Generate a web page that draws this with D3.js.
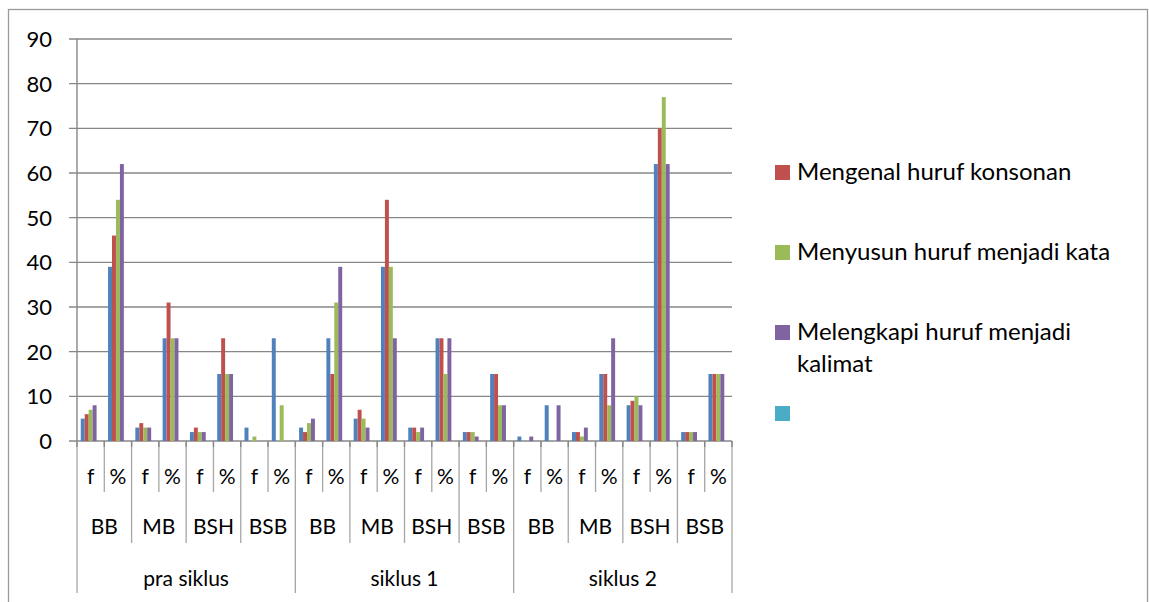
<!DOCTYPE html>
<html>
<head>
<meta charset="utf-8">
<script src="https://cdn.jsdelivr.net/npm/d3@7"></script>
<style>
  body { margin: 0; background: #fff; }
  text { font-family: Lato, "Liberation Sans", sans-serif; fill: #000; }
</style>
</head>
<body>
<div id="chart"></div>
<script>
// data
const siklus = ["pra siklus", "siklus 1", "siklus 2"];
const kategori = ["BB", "MB", "BSH", "BSB"];
const kolom = ["f", "%"];

const seriesNames = ["", "Mengenal huruf konsonan", "Menyusun huruf menjadi kata", "Melengkapi huruf menjadi kalimat", ""];
const seriesColors = ["#4f81bd", "#c0504d", "#9bbb59", "#8064a2", "#4bacc6"];

const biru   = [5, 39, 3, 23, 2, 15, 3, 23,  3, 23, 5, 39, 3, 23, 2, 15,  1, 8, 2, 15, 8, 62, 2, 15];
const merah  = [6, 46, 4, 31, 3, 23, 0, 0,   2, 15, 7, 54, 3, 23, 2, 15,  0, 0, 2, 15, 9, 70, 2, 15];
const hijau  = [7, 54, 3, 23, 2, 15, 1, 8,   4, 31, 5, 39, 2, 15, 2, 8,   0, 0, 1, 8, 10, 77, 2, 15];
const ungu   = [8, 62, 3, 23, 2, 15, 0, 0,   5, 39, 3, 23, 3, 23, 1, 8,   1, 8, 3, 23, 8, 62, 2, 15];
const kosong = [null, null, null, null, null, null, null, null, null, null, null, null,
                null, null, null, null, null, null, null, null, null, null, null, null];

const yTicks = [0, 10, 20, 30, 40, 50, 60, 70, 80, 90];
const legendIdx = [1, 2, 3, 4];

document.addEventListener("DOMContentLoaded", () => {
  const W = 1149, H = 602;
  const plot = { left: 77, right: 732, top: 39, bottom: 441 };

  const svg = d3.select("#chart")
    .append("svg")
    .attr("width", W)
    .attr("height", H);

  // chart border
  svg.append("rect")
    .attr("x", 8.5).attr("y", 9.5)
    .attr("width", 1139).attr("height", 620)
    .attr("fill", "none")
    .attr("stroke", "#9a9a9a")
    .attr("stroke-width", 1.3);

  const cats = [];
  siklus.forEach(s => kategori.forEach(k => kolom.forEach(c => cats.push(`${s}|${k}|${c}`))));

  const allSeries = [biru, merah, hijau, ungu, kosong];

  const x0 = d3.scaleBand().domain(cats).range([plot.left, plot.right]).padding(0);
  const x1 = d3.scaleBand().domain(d3.range(allSeries.length))
    .range([0, x0.bandwidth()]).paddingInner(0).paddingOuter(0.95);
  const y = d3.scaleLinear().domain([0, 90]).range([plot.bottom, plot.top]);

  // gridlines
  svg.append("g")
    .selectAll("line")
    .data(yTicks)
    .join("line")
    .attr("x1", plot.left - 8).attr("x2", plot.right)
    .attr("y1", d => y(d)).attr("y2", d => y(d))
    .attr("stroke", "#878787")
    .attr("stroke-width", 1.4);

  // y axis labels
  svg.append("g")
    .selectAll("text")
    .data(yTicks)
    .join("text")
    .attr("x", 52)
    .attr("y", d => y(d))
    .attr("dy", "0.36em")
    .attr("text-anchor", "end")
    .style("font-size", "22px")
    .text(d => d);

  // bars
  const barData = [];
  cats.forEach((c, i) => {
    allSeries.forEach((s, j) => {
      if (s[i] != null) barData.push({ cat: c, si: j, v: s[i] });
    });
  });

  svg.append("g")
    .selectAll("rect")
    .data(barData)
    .join("rect")
    .attr("x", d => x0(d.cat) + x1(d.si))
    .attr("y", d => y(d.v))
    .attr("width", x1.bandwidth())
    .attr("height", d => y(0) - y(d.v))
    .attr("fill", d => seriesColors[d.si]);

  // y axis line
  svg.append("line")
    .attr("x1", plot.left).attr("x2", plot.left)
    .attr("y1", plot.top).attr("y2", plot.bottom)
    .attr("stroke", "#878787")
    .attr("stroke-width", 1.4);

  // category dividers (multi-level axis)
  const bounds = d3.range(cats.length + 1);
  const xb = i => i < cats.length ? x0(cats[i]) : plot.right;
  svg.append("g")
    .selectAll("line")
    .data(bounds)
    .join("line")
    .attr("x1", xb).attr("x2", xb)
    .attr("y1", plot.bottom)
    .attr("y2", i => i % 8 === 0 ? 593 : (i % 2 === 0 ? 543 : 492))
    .attr("stroke", "#a6a6a6")
    .attr("stroke-width", 1.3);

  svg.append("g")
    .selectAll("line")
    .data(bounds)
    .join("line")
    .attr("x1", xb).attr("x2", xb)
    .attr("y1", plot.bottom).attr("y2", plot.bottom + 6)
    .attr("stroke", "#878787")
    .attr("stroke-width", 1.4);

  // f / % labels
  svg.append("g")
    .selectAll("text")
    .data(cats)
    .join("text")
    .attr("x", d => x0(d) + x0.bandwidth() / 2)
    .attr("y", 484)
    .attr("text-anchor", "middle")
    .style("font-size", "21px")
    .text(d => d.split("|")[2]);

  // level labels
  const levelData = [];
  siklus.forEach(s => kategori.forEach(k => levelData.push({ s, k })));
  svg.append("g")
    .selectAll("text")
    .data(levelData)
    .join("text")
    .attr("x", d => x0(`${d.s}|${d.k}|f`) + x0.bandwidth())
    .attr("y", 534)
    .attr("text-anchor", "middle")
    .style("font-size", "21px")
    .text(d => d.k);

  // cycle labels
  svg.append("g")
    .selectAll("text")
    .data(siklus)
    .join("text")
    .attr("x", d => x0(`${d}|BB|f`) + x0.bandwidth() * 4)
    .attr("y", 586)
    .attr("text-anchor", "middle")
    .style("font-size", "21px")
    .text(d => d);

  // legend
  const legend = svg.append("g").attr("transform", "translate(775,0)");
  const rowY = [172.5, 252.5, 332.5, 413.5];
  legendIdx.forEach((si, r) => {
    const g = legend.append("g").attr("transform", `translate(0,${rowY[r]})`);
    g.append("rect")
      .attr("x", 0).attr("y", -7.5)
      .attr("width", 15).attr("height", 15)
      .attr("fill", seriesColors[si]);
    const name = seriesNames[si];
    const lines = name === "Melengkapi huruf menjadi kalimat"
      ? ["Melengkapi huruf menjadi", "kalimat"] : [name];
    const t = g.append("text")
      .attr("x", 22).attr("y", 7.5)
      .style("font-size", "24px");
    lines.forEach((l, k) => {
      t.append("tspan").attr("x", 22).attr("dy", k === 0 ? 0 : 32).text(l);
    });
  });
});
</script>
</body>
</html>
